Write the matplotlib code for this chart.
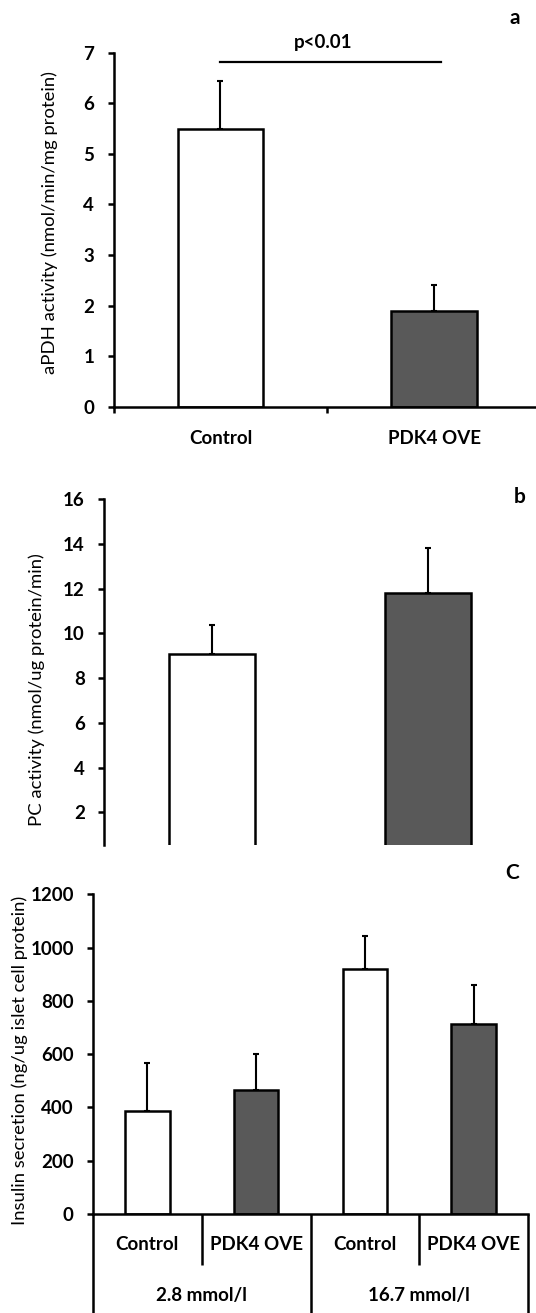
import matplotlib
matplotlib.use("Agg")
import matplotlib.pyplot as plt
import numpy as np
from matplotlib.transforms import blended_transform_factory

plt.rcParams['font.family'] = ['Lato', 'DejaVu Sans']

# ---- data ----
a_cats = ["Control", "PDK4 OVE"]
a_vals = [5.5, 1.9]
a_err = [0.95, 0.5]

b_cats = ["Control", "PDK4 OVE"]
b_vals = [9.1, 11.8]
b_err = [1.3, 2.0]

c_cats = ["Control", "PDK4 OVE", "Control", "PDK4 OVE"]
c_groups = ["2.8 mmol/l", "16.7 mmol/l"]
c_vals = [385, 465, 918, 713]
c_err = [180, 135, 125, 147]

colors = ["white", "#595959"]

W, H = 536, 1313
fig = plt.figure(figsize=(W / 100, H / 100), dpi=100)

def px_axes(left, right, top, bottom):
    return fig.add_axes([left / W, 1 - bottom / H, (right - left) / W, (bottom - top) / H])

LW_SP = 1.8
LW_BAR = 1.8
LW_ERR = 1.5
TICKFS = 13.5
LABFS = 13.3

def style(ax, show_bottom=True):
    ax.spines['top'].set_visible(False)
    ax.spines['right'].set_visible(False)
    ax.spines['left'].set_linewidth(LW_SP)
    ax.spines['bottom'].set_linewidth(LW_SP)
    ax.spines['bottom'].set_visible(show_bottom)
    ax.tick_params(axis='y', direction='out', length=4.3, width=LW_SP, pad=9.5,
                   labelsize=TICKFS)
    for lab in ax.get_yticklabels():
        lab.set_fontweight('bold')

def bars(ax, vals, errs, cols, width=0.4):
    x = np.arange(len(vals))
    ax.bar(x, vals, width=width, color=cols, edgecolor='black', linewidth=LW_BAR, zorder=2)
    ax.errorbar(x, vals, yerr=[np.zeros(len(errs)), errs], fmt='none', ecolor='black',
                elinewidth=LW_ERR, capsize=2.5, capthick=LW_ERR, zorder=1)
    return x

# ---- panel a ----
axa = px_axes(113.5, 541, 52.7, 406.7)
xa = bars(axa, a_vals, a_err, colors)
axa.set_xlim(-0.5, len(a_vals) - 0.5)
axa.set_ylim(0, 7)
axa.set_yticks(np.arange(0, 8, 1))
style(axa)
axa.set_xticks(np.arange(len(a_vals) + 1) - 0.5)
axa.set_xticklabels([])
axa.tick_params(axis='x', which='major', direction='out', length=4.3, width=LW_SP)
axa.set_xticks(xa, minor=True)
axa.set_xticklabels(a_cats, minor=True, fontweight='bold', fontsize=TICKFS)
axa.tick_params(axis='x', which='minor', length=0, pad=17)
axa.plot([0.0, 1.03], [6.82, 6.82], color='black', lw=1.6, clip_on=False)
axa.text(0.48, 7.21, "p<0.01", ha='center', va='center', fontsize=TICKFS,
         fontweight='bold', clip_on=False)
fig.text(515 / W, 1 - 18 / H, "a", ha='center', va='center', fontsize=15, fontweight='bold')
fig.text(50 / W, 1 - 223 / H, "aPDH activity (nmol/min/mg protein)", rotation=90,
         ha='center', va='center', fontsize=LABFS)

# ---- panel b ----
axb = px_axes(104, 536, 499.3, 845)
xb = bars(axb, b_vals, b_err, colors)
axb.set_xlim(-0.5, len(b_vals) - 0.5)
axb.set_ylim(0.54, 16)
axb.set_yticks(np.arange(2, 17, 2))
style(axb, show_bottom=False)
axb.set_xticks([])
fig.text(520 / W, 1 - 497 / H, "b", ha='center', va='center', fontsize=15, fontweight='bold')
fig.text(37 / W, 1 - 690 / H, "PC activity (nmol/ug protein/min)", rotation=90,
         ha='center', va='center', fontsize=LABFS)

# ---- panel c ----
axc = px_axes(93, 528, 894.3, 1214)
xc = bars(axc, c_vals, c_err, colors * 2, width=0.41)
axc.set_xlim(-0.5, len(c_vals) - 0.5)
axc.set_ylim(0, 1200)
axc.set_yticks(np.arange(0, 1201, 200))
style(axc)
axc.set_xticks([])
bt = blended_transform_factory(axc.transData, axc.transAxes)
ax_h = 1214 - 894.3
inner_y = -51 / ax_h
outer_y = -110 / ax_h
n = len(c_cats)
per = n // len(c_groups)
for i in range(n + 1):
    xb_ = i - 0.5
    y_end = outer_y if i % per == 0 else inner_y
    axc.plot([xb_, xb_], [0, y_end], transform=bt, color='black', lw=LW_SP,
             clip_on=False, solid_capstyle='butt')
for i, lab in enumerate(c_cats):
    axc.text(xc[i], -31 / ax_h, lab, transform=bt, ha='center', va='center',
             fontsize=TICKFS, fontweight='bold')
for g, lab in enumerate(c_groups):
    axc.text(g * per + (per - 1) / 2, -81 / ax_h, lab, transform=bt, ha='center',
             va='center', fontsize=TICKFS, fontweight='bold')
fig.text(512 / W, 1 - 873 / H, "C", ha='center', va='center', fontsize=15, fontweight='bold')
fig.text(20 / W, 1 - 1060 / H, "Insulin secretion (ng/ug islet cell protein)", rotation=90,
         ha='center', va='center', fontsize=LABFS)

fig.savefig("out.png", dpi=100)
